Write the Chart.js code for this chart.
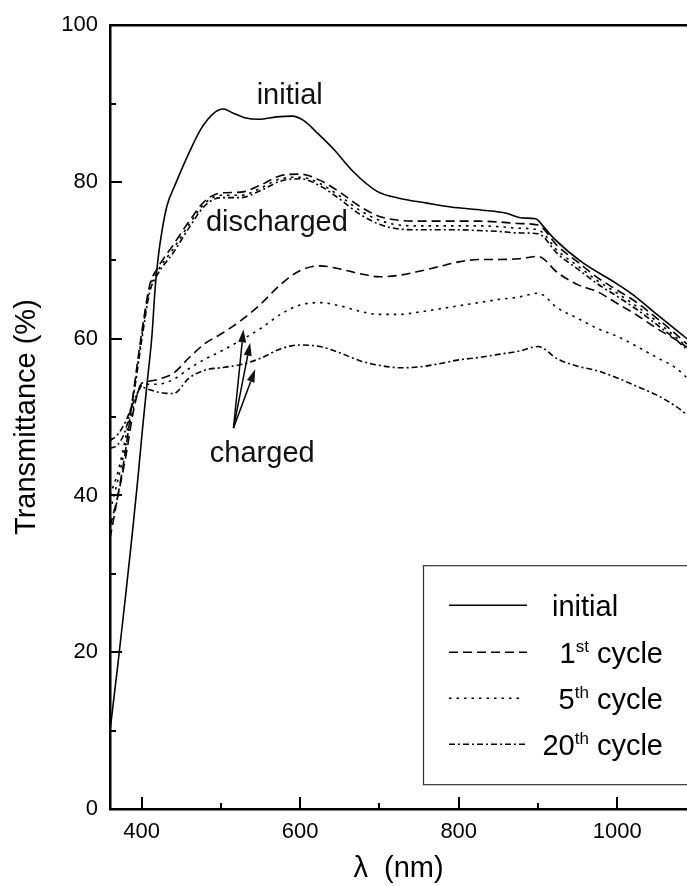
<!DOCTYPE html>
<html>
<head>
<meta charset="utf-8">
<script src="https://cdn.jsdelivr.net/npm/chart.js@4.4.0/dist/chart.umd.min.js"></script>
<style>
  html, body { margin: 0; padding: 0; background: #fff; }
  #wrap { width: 687px; height: 886px; }
</style>
</head>
<body>
<div id="wrap"><canvas id="chart" width="687" height="886"></canvas></div>
<script>
// wavelength grid (nm) and transmittance (%)
const initialWl = [360, 370, 380, 388, 395, 401, 407, 413, 417, 421, 426, 432, 442, 461, 475, 490, 503, 515, 530, 548, 570, 590, 605, 620, 642, 667, 697, 726, 760, 790, 830, 860, 880, 897, 907, 920, 955, 995, 1020, 1050, 1088];
const initialT = [10, 18.5, 27.5, 35, 42, 48.5, 54.5, 60.5, 66.5, 70.5, 74, 77, 79.6, 84, 86.8, 88.7, 89.3, 88.8, 88.2, 88, 88.3, 88.4, 87.8, 86.4, 84.2, 81.3, 78.8, 77.9, 77.3, 76.8, 76.4, 76, 75.4, 75.3, 74.3, 72.8, 69.8, 67.3, 65.6, 63.1, 60];

const cycleWl = [360, 370, 380, 390, 400, 410, 420, 440, 460, 480, 500, 525, 550, 575, 600, 625, 650, 675, 700, 725, 750, 775, 800, 825, 850, 875, 900, 925, 950, 975, 1000, 1025, 1050, 1075, 1088];

const charged1 = [36, 40, 45, 51, 54.3, 54.6, 54.8, 55.6, 57.6, 59.4, 60.6, 62.3, 64.4, 66.9, 68.7, 69.3, 68.9, 68.3, 67.9, 68.1, 68.6, 69.2, 69.8, 70.1, 70.1, 70.2, 70.5, 68.4, 66.9, 66, 64.5, 63, 61.3, 59.8, 58.9];
const charged5 = [38, 42, 46.5, 51.5, 54, 54.2, 54.2, 54.8, 56.2, 57.4, 58.4, 59.8, 61.3, 63.1, 64.3, 64.6, 64.2, 63.5, 63.1, 63.1, 63.4, 63.8, 64.2, 64.6, 65, 65.3, 65.8, 63.9, 62.6, 61.3, 60.3, 59, 57.6, 56.2, 55];
const charged20 = [47, 47.8, 49.5, 52, 53.8, 53.5, 53.2, 53, 55, 56, 56.3, 56.7, 57.5, 58.7, 59.2, 59, 58.2, 57.2, 56.6, 56.3, 56.4, 56.8, 57.3, 57.6, 58, 58.4, 59, 57.4, 56.5, 55.9, 55, 53.9, 52.8, 51.3, 50.3];

const discharged1 = [34.5, 40, 46, 53.5, 60.8, 66.8, 69, 72, 75, 77.6, 78.6, 78.7, 79.6, 80.8, 81, 80.2, 78.7, 76.9, 75.6, 75.1, 75, 75, 75, 75, 74.9, 74.7, 74.5, 71.8, 69.8, 67.8, 66.2, 64.6, 62.6, 60.5, 59.3];
const discharged5 = [40, 43, 47.5, 53, 60.3, 66.4, 68.6, 71.5, 74.6, 77.3, 78.3, 78.3, 79.2, 80.4, 80.6, 79.8, 78.2, 76.4, 75.1, 74.5, 74.4, 74.4, 74.4, 74.4, 74.3, 74.1, 73.9, 71.2, 69.3, 67.4, 65.8, 64.1, 62.2, 60.1, 58.9];
const discharged20 = [46, 46.5, 48.5, 53, 59.8, 65.9, 68.2, 71, 74.2, 77, 78, 78, 78.9, 80.1, 80.4, 79.5, 77.8, 75.9, 74.6, 74, 73.9, 73.9, 73.9, 73.8, 73.7, 73.5, 73.4, 70.8, 68.9, 67, 65.4, 63.7, 61.8, 59.8, 58.6];

const xMajorTicks = [400, 600, 800, 1000];
const xMinorTicks = [500, 700, 900];
const yMajorTicks = [0, 20, 40, 60, 80, 100];
const yMinorTicks = [10, 30, 50, 70, 90];

const legendNames = ['initial', '1', '5', '20'];
const legendSup = ['', 'st', 'th', 'th'];
const legendSuffix = ['', ' cycle', ' cycle', ' cycle'];

const FONT = '"Liberation Sans", Arial, Helvetica, sans-serif';
Chart.defaults.font.family = FONT;
Chart.defaults.color = '#000';

const DASH = {
  initial: [],
  c1: [9, 5],
  c5: [2.5, 5],
  c20: [6, 3, 2, 3]
};

function pts(xs, ys) {
  return xs.map((x, i) => ({ x, y: ys[i] }));
}

function series(label, xs, ys, dash) {
  return {
    label,
    data: pts(xs, ys),
    borderColor: '#000',
    borderWidth: 1.6,
    borderDash: dash,
    pointRadius: 0,
    fill: false,
    cubicInterpolationMode: 'monotone'
  };
}

// text labels, arrows, inward ticks, frame top and the legend box
const decorations = {
  id: 'decorations',
  afterDraw(chart) {
    const { ctx, chartArea: a, scales: { x, y } } = chart;
    ctx.save();
    ctx.strokeStyle = '#000';
    ctx.fillStyle = '#000';

    // top frame line
    ctx.lineWidth = 2.5;
    ctx.beginPath();
    ctx.moveTo(a.left - 1, a.top);
    ctx.lineTo(a.right, a.top);
    ctx.stroke();

    // inward tick marks
    ctx.lineWidth = 2;
    const xt = (v, len) => {
      const px = Math.round(x.getPixelForValue(v));
      ctx.beginPath(); ctx.moveTo(px, a.bottom); ctx.lineTo(px, a.bottom - len); ctx.stroke();
    };
    const yt = (v, len) => {
      const py = Math.round(y.getPixelForValue(v));
      ctx.beginPath(); ctx.moveTo(a.left, py); ctx.lineTo(a.left + len, py); ctx.stroke();
    };
    xMajorTicks.forEach(v => xt(v, 12));
    xMinorTicks.forEach(v => xt(v, 6));
    yMajorTicks.forEach(v => yt(v, 12));
    yMinorTicks.forEach(v => yt(v, 6));

    // annotations
    ctx.font = '29px ' + FONT;
    ctx.textAlign = 'left';
    ctx.textBaseline = 'alphabetic';
    ctx.fillStyle = '#111';
    ctx.fillText('initial', x.getPixelForValue(545), y.getPixelForValue(90));
    ctx.fillText('discharged', x.getPixelForValue(481), y.getPixelForValue(73.8));
    ctx.fillText('charged', x.getPixelForValue(486), y.getPixelForValue(44.3));

    // arrows from the "charged" label
    const ox = x.getPixelForValue(515.8), oy = y.getPixelForValue(48.6);
    [[528.4, 61.2], [536.9, 59.5], [543.2, 56.1]].forEach(([tx, ty]) => {
      const px = x.getPixelForValue(tx), py = y.getPixelForValue(ty);
      const ang = Math.atan2(py - oy, px - ox);
      const hl = 13, hw = 4;
      const bx = px - hl * Math.cos(ang), by = py - hl * Math.sin(ang);
      ctx.lineWidth = 1.5;
      ctx.beginPath(); ctx.moveTo(ox, oy); ctx.lineTo(bx, by); ctx.stroke();
      ctx.beginPath();
      ctx.moveTo(px, py);
      ctx.lineTo(bx + hw * Math.sin(ang), by - hw * Math.cos(ang));
      ctx.lineTo(bx - hw * Math.sin(ang), by + hw * Math.cos(ang));
      ctx.closePath();
      ctx.fill();
    });

    // legend box
    const bl = a.left + 313, bt = a.top + 540, bb = a.top + 759;
    ctx.fillStyle = '#fff';
    ctx.fillRect(bl, bt, chart.width - bl + 5, bb - bt);
    ctx.strokeStyle = '#333';
    ctx.lineWidth = 1.2;
    ctx.strokeRect(bl + 0.5, bt + 0.5, chart.width - bl + 5, bb - bt);

    const dashes = [DASH.initial, DASH.c1, DASH.c5, DASH.c20];
    const sampleEnds = [104, 104, 97, 104];
    const rowOff = [40, 87, 133, 179];
    ctx.strokeStyle = '#000';
    ctx.fillStyle = '#000';
    legendNames.forEach((name, i) => {
      const ry = bt + rowOff[i];
      ctx.lineWidth = 1.6;
      ctx.setLineDash(dashes[i]);
      ctx.beginPath(); ctx.moveTo(bl + 26, ry); ctx.lineTo(bl + sampleEnds[i], ry); ctx.stroke();
      ctx.setLineDash([]);

      const base = ry + 11;
      ctx.font = '29px ' + FONT;
      const wMain = ctx.measureText(name).width;
      const wSuf = ctx.measureText(legendSuffix[i]).width;
      ctx.font = '17px ' + FONT;
      const wSup = ctx.measureText(legendSup[i]).width;
      let sx = i === 0 ? bl + 129 : bl + 240 - (wMain + wSup + wSuf);
      ctx.font = '29px ' + FONT;
      ctx.fillText(name, sx, base);
      sx += wMain;
      ctx.font = '17px ' + FONT;
      ctx.fillText(legendSup[i], sx, base - 11);
      sx += wSup;
      ctx.font = '29px ' + FONT;
      ctx.fillText(legendSuffix[i], sx, base);
    });
    ctx.restore();
  }
};

new Chart(document.getElementById('chart'), {
  type: 'line',
  data: {
    datasets: [
      series('initial', initialWl, initialT, DASH.initial),
      series('1st cycle discharged', cycleWl, discharged1, DASH.c1),
      series('5th cycle discharged', cycleWl, discharged5, DASH.c5),
      series('20th cycle discharged', cycleWl, discharged20, DASH.c20),
      series('1st cycle charged', cycleWl, charged1, DASH.c1),
      series('5th cycle charged', cycleWl, charged5, DASH.c5),
      series('20th cycle charged', cycleWl, charged20, DASH.c20)
    ]
  },
  options: {
    responsive: false,
    animation: false,
    events: [],
    layout: { padding: { top: 23, right: 0, bottom: 0, left: 0 } },
    plugins: { legend: { display: false }, tooltip: { enabled: false } },
    scales: {
      x: {
        type: 'linear',
        min: 360,
        max: 1088,
        afterBuildTicks: s => { s.ticks = xMajorTicks.map(v => ({ value: v })); },
        afterFit: s => { s.height = 77; },
        grid: { display: false, drawTicks: false },
        border: { display: true, color: '#000', width: 2.5 },
        ticks: { color: '#000', font: { size: 22 }, padding: 10, maxRotation: 0, callback: v => String(v) },
        title: { display: true, text: 'λ  (nm)', color: '#000', font: { size: 29 }, padding: { top: 0, bottom: 0 } }
      },
      y: {
        min: 0,
        max: 100,
        afterBuildTicks: s => { s.ticks = yMajorTicks.map(v => ({ value: v })); },
        afterFit: s => { s.width = 110; },
        grid: { display: false, drawTicks: false },
        border: { display: true, color: '#000', width: 2.5 },
        ticks: { color: '#000', font: { size: 22 }, padding: 12, callback: v => String(v) },
        title: { display: true, text: 'Transmittance (%)', color: '#000', font: { size: 29 }, padding: { top: 10, bottom: 0 } }
      }
    }
  },
  plugins: [decorations]
});
</script>
</body>
</html>
